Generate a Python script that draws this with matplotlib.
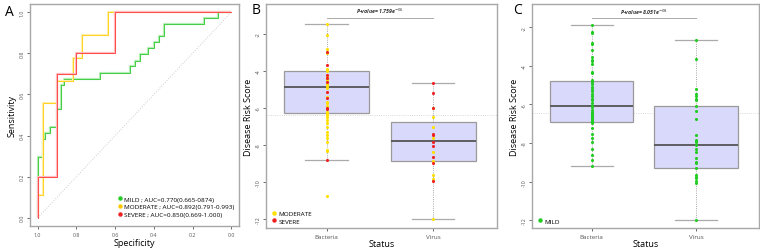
import matplotlib
matplotlib.use('Agg')
import matplotlib.pyplot as plt
from matplotlib.lines import Line2D

plt.rcParams['font.family'] = ['Open Sans', 'DejaVu Sans']

# ---- Panel A: ROC curves (specificity, sensitivity at each step) ----
mild_spec = [1.0, 1.0, 0.974, 0.96, 0.935, 0.9, 0.878, 0.862, 0.68, 0.525, 0.5, 0.473, 0.43, 0.4, 0.375, 0.346, 0.14, 0.069, 0.0]
mild_sens = [0.0, 0.296, 0.385, 0.413, 0.442, 0.53, 0.647, 0.676, 0.705, 0.736, 0.765, 0.798, 0.825, 0.854, 0.883, 0.943, 0.97, 1.0, 1.0]
moderate_spec = [1.0, 1.0, 0.974, 0.9, 0.818, 0.77, 0.639, 0.0]
moderate_sens = [0.0, 0.111, 0.556, 0.667, 0.778, 0.889, 1.0, 1.0]
severe_spec = [1.0, 1.0, 0.9, 0.8, 0.6, 0.0]
severe_sens = [0.0, 0.2, 0.7, 0.8, 1.0, 1.0]
roc_labels = ['MILD ; AUC=0.770(0.665-0874)',
              'MODERATE ; AUC=0.892(0.791-0.993)',
              'SEVERE ; AUC=0.850(0.669-1.000)']
roc_ticks = [1.0, 0.8, 0.6, 0.4, 0.2, 0.0]

# ---- Panel B: moderate / severe disease risk scores ----
b_groups = ['Bacteria', 'Virus']
b_q1 = [-6.3, -8.9]
b_med = [-4.9, -7.8]
b_q3 = [-4.0, -6.75]
b_lo = [-8.85, -12.0]
b_hi = [-1.46, -4.65]
b_bact_moderate = [-1.46, -2.09, -2.81, -3.07, -3.92, -3.97, -4.03, -4.33, -4.45, -4.51, -4.74, -4.81,
                   -4.92, -5.4, -5.67, -5.76, -5.9, -6.22, -6.31, -6.4, -6.49, -6.67, -6.85, -7.03,
                   -7.3, -7.48, -7.66, -7.84, -8.29, -8.34, -10.77]
b_bact_severe = [-2.99, -3.7, -4.24, -4.38, -4.6, -5.17, -5.49, -6.0, -6.09, -8.85]
b_virus_moderate = [-6.0, -6.49, -7.03, -7.66, -8.41, -8.88, -9.63, -9.85, -12.0]
b_virus_severe = [-4.65, -5.19, -6.0, -7.46, -7.43, -7.84, -8.05, -8.65, -8.97, -9.95]
b_cutoff = -6.4
b_pvalue = r'P-value= 1.759e$^{-06}$'

# ---- Panel C: mild disease risk scores ----
c_q1 = [-6.9, -9.27]
c_med = [-6.07, -8.12]
c_q3 = [-4.78, -6.07]
c_lo = [-9.19, -12.0]
c_hi = [-1.88, -2.64]
c_bact_mild = [-1.88, -2.26, -2.31, -2.82, -2.88, -3.2, -3.55, -3.69, -3.77, -3.89, -4.32, -4.36,
               -4.75, -4.84, -4.92, -5.09, -5.18, -5.32, -5.44, -5.56, -5.7, -5.73, -5.78, -5.95,
               -6.07, -6.12, -6.3, -6.38, -6.47, -6.52, -6.55, -6.59, -6.64, -6.69, -6.76, -6.81,
               -6.86, -6.9, -6.98, -7.24, -7.55, -7.76, -7.96, -8.31, -8.62, -8.88, -9.19]
c_virus_mild = [-2.64, -3.63, -5.22, -5.44, -5.56, -5.7, -5.78, -6.07, -6.33, -6.78, -7.59, -7.85,
                -7.88, -7.93, -8.1, -8.31, -8.48, -8.75, -8.96, -9.05, -9.27, -9.65, -9.74, -9.82,
                -9.96, -10.08, -12.0]
c_cutoff = -6.43
c_pvalue = r'P-value= 8.051e$^{-08}$'

score_ticks = [-2, -4, -6, -8, -10, -12]

GREEN = '#22cc22'
YELLOW = '#ffe000'
RED = '#ee2222'
FRAME = '#a8a8a8'

fig = plt.figure(figsize=(7.6, 2.51), dpi=100)


def style_frame(ax):
    for s in ax.spines.values():
        s.set_color(FRAME)
        s.set_linewidth(1.0)
    ax.tick_params(colors='#555555', length=2.5, width=0.6, labelsize=3.8, pad=1.5)


# Panel A
axA = fig.add_axes([30 / 760, 1 - 227 / 251, 209 / 760, 222 / 251])
axA.plot([1, 0], [0, 1], color='#cccccc', lw=0.7, ls=':')
for sp, se, col, light in [(mild_spec, mild_sens, '#44cc44', '#b5efb5'),
                           (moderate_spec, moderate_sens, '#ffd21f', '#fff0b0'),
                           (severe_spec, severe_sens, '#ff4c4c', '#ffbcbc')]:
    axA.step(sp, se, where='post', color=light, lw=1.6, solid_capstyle='butt')
    axA.step(sp, se, where='post', color=col, lw=0.7)
axA.set_xlim(1.04, -0.04)
axA.set_ylim(-0.04, 1.04)
axA.set_xticks(roc_ticks)
axA.set_xticklabels([f'{t:.1f}' for t in roc_ticks])
axA.set_yticks(roc_ticks[::-1])
axA.set_yticklabels([f'{t:.1f}' for t in roc_ticks[::-1]], rotation=90, va='center')
style_frame(axA)
axA.set_xlabel('Specificity', fontsize=6.5, labelpad=1)
axA.set_ylabel('Sensitivity', fontsize=6.5, labelpad=2)
handles = [Line2D([], [], ls='', marker='o', ms=2.2, color=c) for c in (GREEN, '#ffc800', RED)]
axA.legend(handles, roc_labels, loc='lower right', frameon=False, fontsize=4.6,
           handletextpad=0.2, labelspacing=0.35, handlelength=1.0, borderaxespad=0.3,
           bbox_to_anchor=(1.0, 0.02))
fig.text(5 / 760, 1 - 12 / 251, 'A', fontsize=10, va='center', ha='left')


def box_panel(ax, q1, med, q3, lo, hi, cutoff, ylim, pval, pval_y, bracket_y):
    stats = [dict(q1=a, med=m, q3=b, whislo=l, whishi=h, label=g)
             for a, m, b, l, h, g in zip(q1, med, q3, lo, hi, b_groups)]
    ax.axhline(cutoff, color='#cccccc', lw=0.6, ls=':', zorder=0)
    ax.bxp(stats, positions=[1, 2], widths=0.8, showfliers=False, patch_artist=True,
           boxprops=dict(facecolor='#d9d9fb', edgecolor='#9a9a9a', lw=0.9),
           medianprops=dict(color='#555555', lw=1.3),
           whiskerprops=dict(color='#888888', lw=0.6, ls=':'),
           capprops=dict(color='#aaaaaa', lw=0.9), capwidths=0.4)
    ax.set_xlim(0.43, 2.6)
    ax.set_ylim(*ylim)
    ax.set_yticks(score_ticks)
    ax.set_yticklabels([str(t) for t in score_ticks], rotation=90, va='center')
    style_frame(ax)
    ax.tick_params(axis='x', labelsize=4.5)
    ax.set_xlabel('Status', fontsize=6.5, labelpad=0)
    ax.set_ylabel('Disease Risk Score', fontsize=6.5, labelpad=2)
    ax.plot([1, 2], [bracket_y, bracket_y], color='#aaaaaa', lw=0.7)
    ax.text(1.5, pval_y, pval, fontsize=3.8, fontweight='bold', ha='center', va='center',
            style='italic', color='#333333')


# Panel B
axB = fig.add_axes([266 / 760, 1 - 229 / 251, 231 / 760, 224 / 251])
box_panel(axB, b_q1, b_med, b_q3, b_lo, b_hi, b_cutoff, (-12.5, -0.4), b_pvalue, -0.76, -1.14)
pt = dict(s=5, lw=0, zorder=5)
axB.scatter([1] * len(b_bact_moderate), b_bact_moderate, color=YELLOW, **pt)
axB.scatter([1] * len(b_bact_severe), b_bact_severe, color=RED, **pt)
axB.scatter([2] * len(b_virus_moderate), b_virus_moderate, color=YELLOW, **pt)
axB.scatter([2] * len(b_virus_severe), b_virus_severe, color=RED, **pt)
hB = [Line2D([], [], ls='', marker='o', ms=2.2, color=c) for c in (YELLOW, RED)]
axB.legend(hB, ['MODERATE', 'SEVERE'], loc='lower left', frameon=False, fontsize=4.6,
           handletextpad=0.2, labelspacing=0.35, handlelength=1.0, borderaxespad=0.3)
fig.text(252 / 760, 1 - 10 / 251, 'B', fontsize=10, va='center', ha='left')

# Panel C
axC = fig.add_axes([532 / 760, 1 - 229 / 251, 227 / 760, 224 / 251])
box_panel(axC, c_q1, c_med, c_q3, c_lo, c_hi, c_cutoff, (-12.4, -0.8), c_pvalue, -1.2, -1.52)
axC.scatter([1] * len(c_bact_mild), c_bact_mild, color=GREEN, **pt)
axC.scatter([2] * len(c_virus_mild), c_virus_mild, color=GREEN, **pt)
hC = [Line2D([], [], ls='', marker='o', ms=2.2, color=GREEN)]
axC.legend(hC, ['MILD'], loc='lower left', frameon=False, fontsize=4.6,
           handletextpad=0.2, handlelength=1.0, borderaxespad=0.3)
fig.text(513 / 760, 1 - 10 / 251, 'C', fontsize=10, va='center', ha='left')

fig.savefig('out.png', dpi=100)
